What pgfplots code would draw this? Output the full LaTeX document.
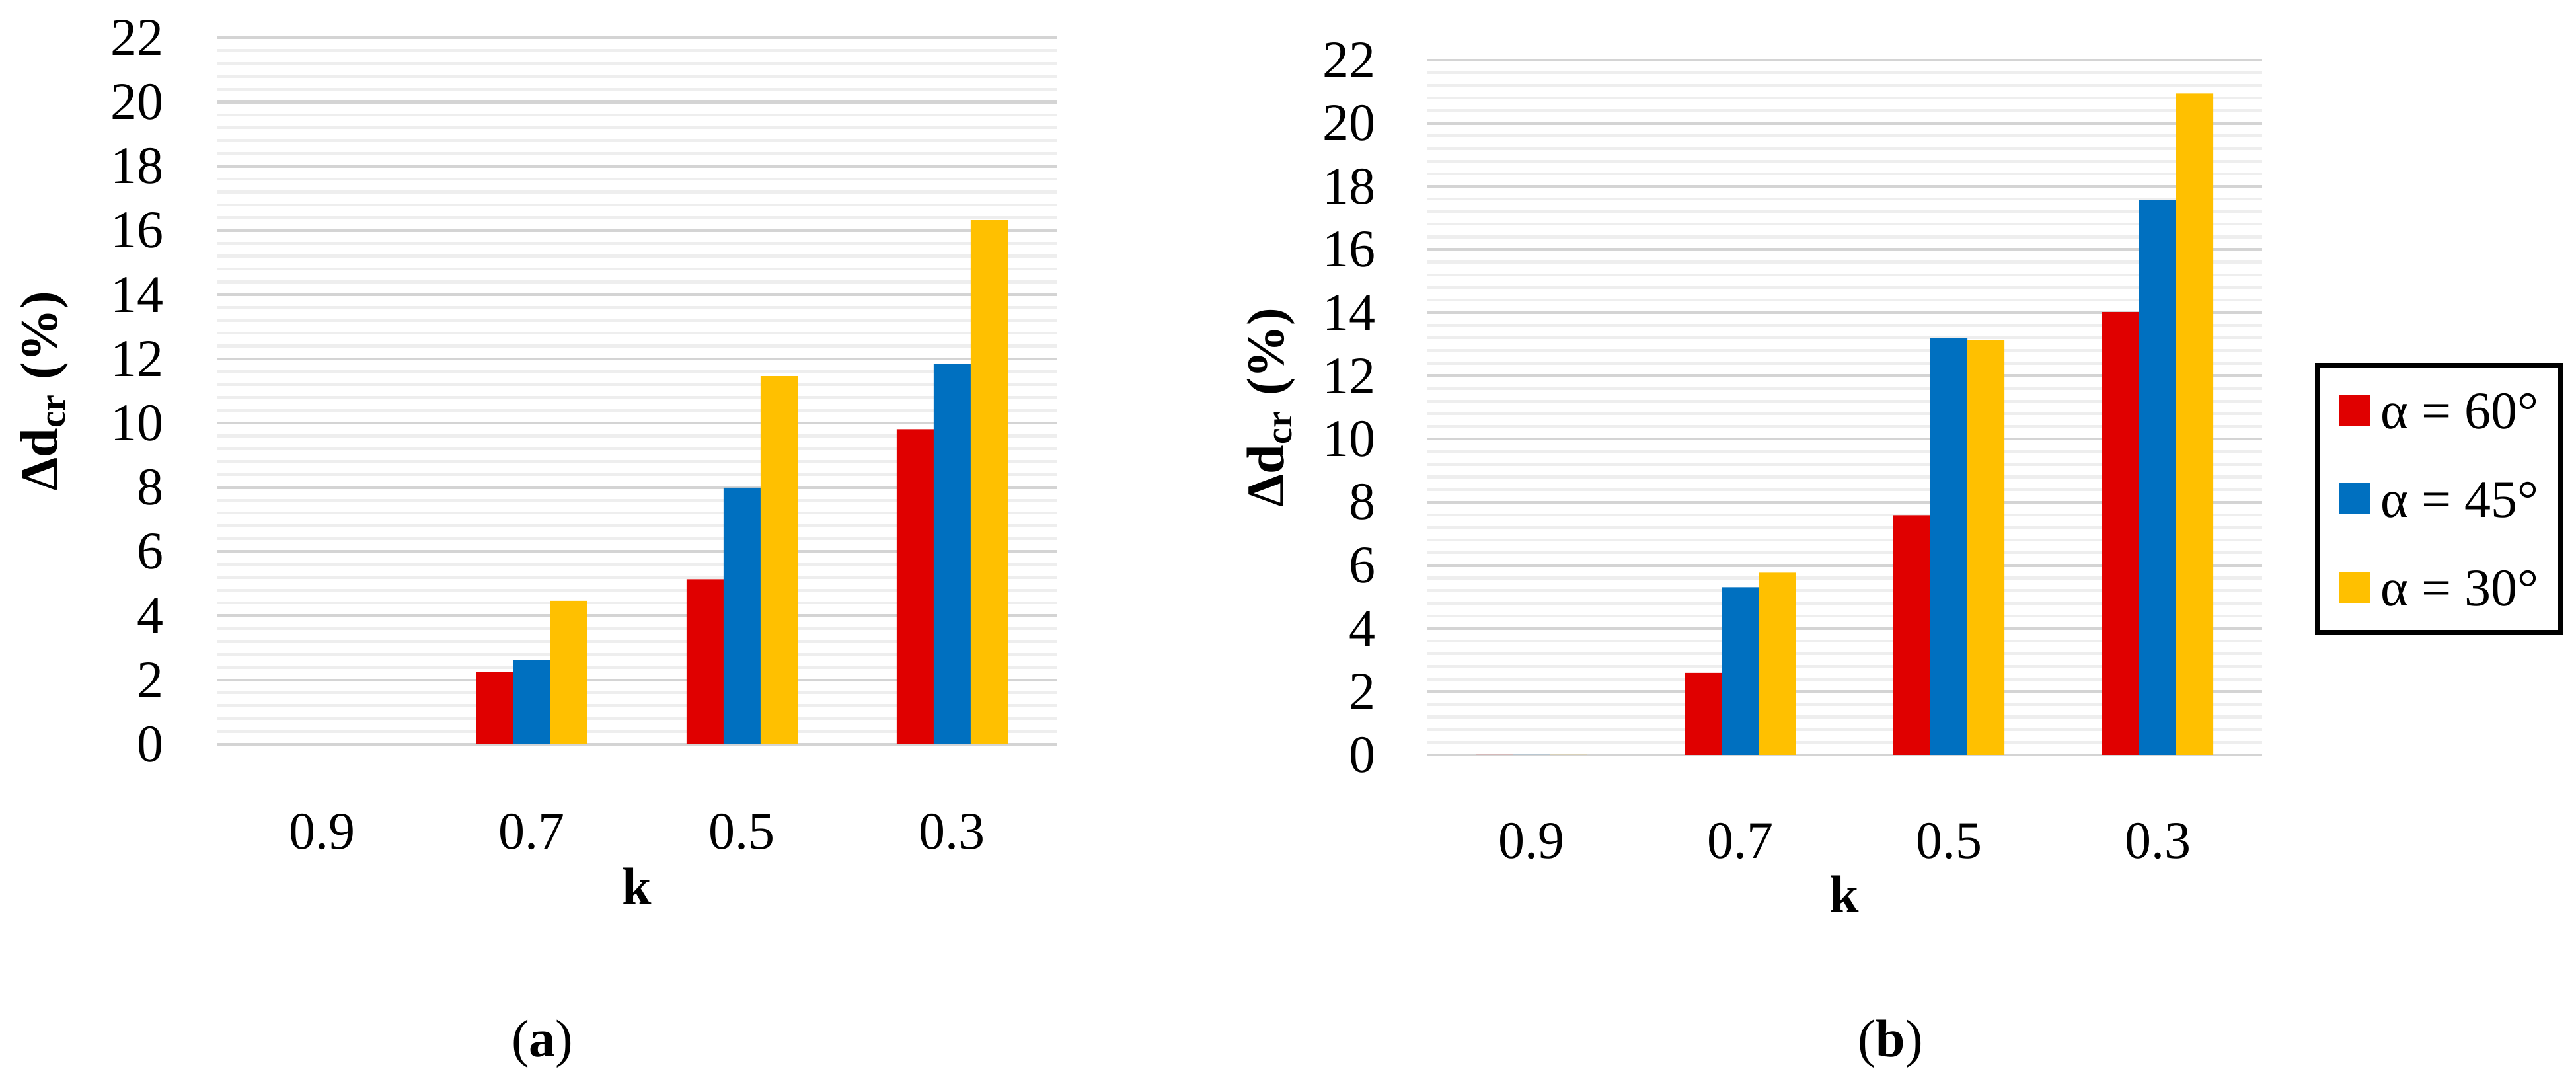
\documentclass[border=0pt]{standalone}
\usepackage{fontspec}
\setmainfont{Liberation Serif}
\usepackage{pgfplots}
\pgfplotsset{compat=1.18}
\usepackage{pgfplotstable}
\definecolor{cRed}{HTML}{E00000}
\definecolor{cBlue}{HTML}{0070C0}
\definecolor{cYel}{HTML}{FFC000}
\definecolor{gMaj}{HTML}{D4D4D4}
\definecolor{gMin}{HTML}{EEEEEE}

\pgfplotstableread{
x r b y
0 0 0 0
1 2.24 2.63 4.47
2 5.14 7.99 11.46
3 9.81 11.85 16.32
}\tabA
\pgfplotstableread{
x r b y
0 0 0 0
1 2.60 5.31 5.77
2 7.59 13.20 13.14
3 14.02 17.57 20.94
}\tabB

\pgfplotsset{
  mybar/.style={
    scale only axis,
    ybar=0pt, bar width=7pt,
    xmin=-0.5, xmax=3.5, ymin=0, ymax=22,
    xtick={0,1,2,3}, xticklabels={0.9,0.7,0.5,0.3},
    ytick={0,2,...,22}, minor y tick num=4,
    ymajorgrids, yminorgrids,
    major grid style={gMaj, line width=0.55pt},
    minor grid style={gMin, line width=0.55pt},
    axis line style={draw=none},
    tick style={draw=none},
    /pgf/number format/assume math mode=true,
    ticklabel style={font=\fontsize{10}{12}\selectfont},
    yticklabel style={anchor=east, inner sep=0pt},
    xticklabel style={anchor=center, inner sep=0pt},
    ylabel={\bfseries Δd\textsubscript{cr} (\%)},
    xlabel={\bfseries k},
    label style={font=\fontsize{10}{12}\selectfont},
    clip=false,
  }
}

\begin{document}
\begin{tikzpicture}
\useasboundingbox (0,0) rectangle (487.25pt,205.75pt);

\begin{axis}[mybar,
  at={(41pt,65pt)}, anchor=south west,
  width=159pt, height=133.6pt,
  yticklabel style={xshift=-9.9pt},
  xticklabel style={yshift=-12.25pt},
  ylabel style={at={(axis description cs:-0.205,0.5)}, anchor=center},
  xlabel style={at={(axis description cs:0.5,0)}, anchor=center, yshift=-26.9pt},
]
\addplot[fill=cRed, draw=none] table[x=x,y=r]{\tabA};
\addplot[fill=cBlue, draw=none] table[x=x,y=b]{\tabA};
\addplot[fill=cYel, draw=none] table[x=x,y=y]{\tabA};
\end{axis}

\begin{axis}[mybar,
  at={(269.9pt,63pt)}, anchor=south west,
  width=158pt, height=131.4pt,
  yticklabel style={xshift=-9.5pt},
  xticklabel style={yshift=-12pt},
  ylabel style={at={(axis description cs:-0.187,0.5)}, anchor=center},
  xlabel style={at={(axis description cs:0.5,0)}, anchor=center, yshift=-26.3pt},
  legend style={at={(1.063,0.564)}, anchor=north west, draw=black, line width=0.9pt,
    inner xsep=4.1pt, inner ysep=5pt, row sep=9.75pt, column sep=2pt,
    nodes={inner sep=0pt, text height=7pt, text depth=0pt},
    font=\fontsize{10}{12}\selectfont},
  legend cell align=left,
  legend image code/.code={\fill[#1] (0pt,-2.95pt) rectangle (5.9pt,2.95pt);},
]
\addplot[fill=cRed, draw=none] table[x=x,y=r]{\tabB};
\addplot[fill=cBlue, draw=none] table[x=x,y=b]{\tabB};
\addplot[fill=cYel, draw=none] table[x=x,y=y]{\tabB};
\legend{α = 60°, α = 45°, α = 30°}
\end{axis}

\node[font=\fontsize{10}{12}\selectfont] at (102.6pt,8.4pt) {(\textbf{a})};
\node[font=\fontsize{10}{12}\selectfont] at (357.6pt,8.4pt) {(\textbf{b})};
\end{tikzpicture}
\end{document}
